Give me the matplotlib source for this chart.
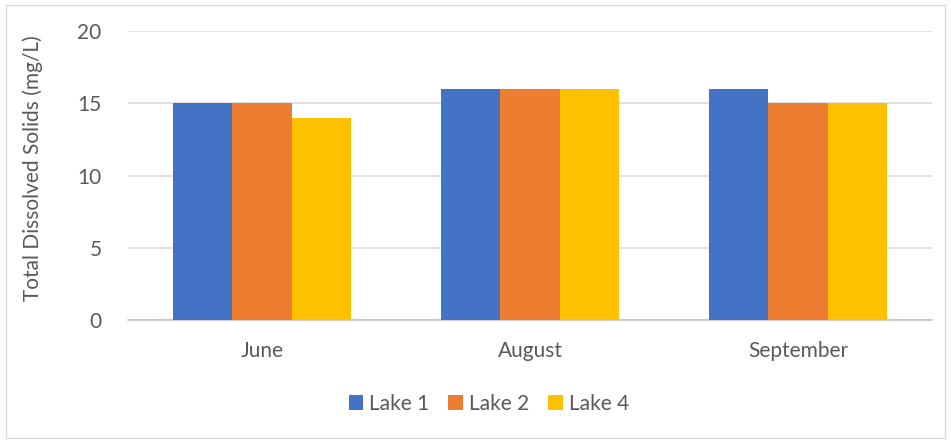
import numpy as np
import matplotlib
matplotlib.use('Agg')
import matplotlib.pyplot as plt
from matplotlib.patches import Rectangle

# data
months = ['June', 'August', 'September']
lakes = ['Lake 1', 'Lake 2', 'Lake 4']
lake_1 = [15, 16, 16]
lake_2 = [15, 16, 15]
lake_4 = [14, 16, 15]
y_ticks = [0, 5, 10, 15, 20]

colors = ['#4472C4', '#ED7D31', '#FFC000']
txt_col = '#595959'
fs = 15

plt.rcParams['font.family'] = ['Lato', 'DejaVu Sans']

fig = plt.figure(figsize=(9.51, 4.42), dpi=100)
ax = fig.add_axes([128/951, 1 - 320/442, 804/951, (320 - 31)/442])

x = np.arange(len(months))
w = 0.222
for i, (vals, lab) in enumerate(zip([lake_1, lake_2, lake_4], lakes)):
    ax.bar(x + (i - 1) * w, vals, width=w, color=colors[i], label=lab, zorder=3)

ax.set_xlim(-0.5, 2.5)
ax.set_ylim(0, 20)
ax.set_yticks(y_ticks)
ax.set_xticks(x)
ax.set_xticklabels(months)
ax.tick_params(axis='both', length=0, labelsize=fs, colors=txt_col)
ax.tick_params(axis='x', pad=15)
ax.tick_params(axis='y', pad=19)
ax.yaxis.grid(True, color='#d9d9d9', lw=1.1, zorder=0)
for s in ['top', 'right', 'left']:
    ax.spines[s].set_visible(False)
ax.spines['bottom'].set_color('#bfbfbf')
ax.spines['bottom'].set_linewidth(1.1)

# y label placed in figure coords
fig.text(33/951, 1 - 168/442, 'Total Dissolved Solids (mg/L)', rotation=90,
         ha='center', va='center', fontsize=fs, color=txt_col)

fig.legend(loc='center', bbox_to_anchor=(489/951, 1 - 404/442), ncol=3, frameon=False,
           fontsize=fs, labelcolor=txt_col, handlelength=0.7, handleheight=0.7,
           handletextpad=0.3, columnspacing=0.9)

# chart border
fig.patches.append(Rectangle((6/951, 4/442), 939/951, 433/442, transform=fig.transFigure,
                             fill=False, edgecolor='#d9d9d9', lw=1.0))

fig.savefig('out.png', dpi=100)
